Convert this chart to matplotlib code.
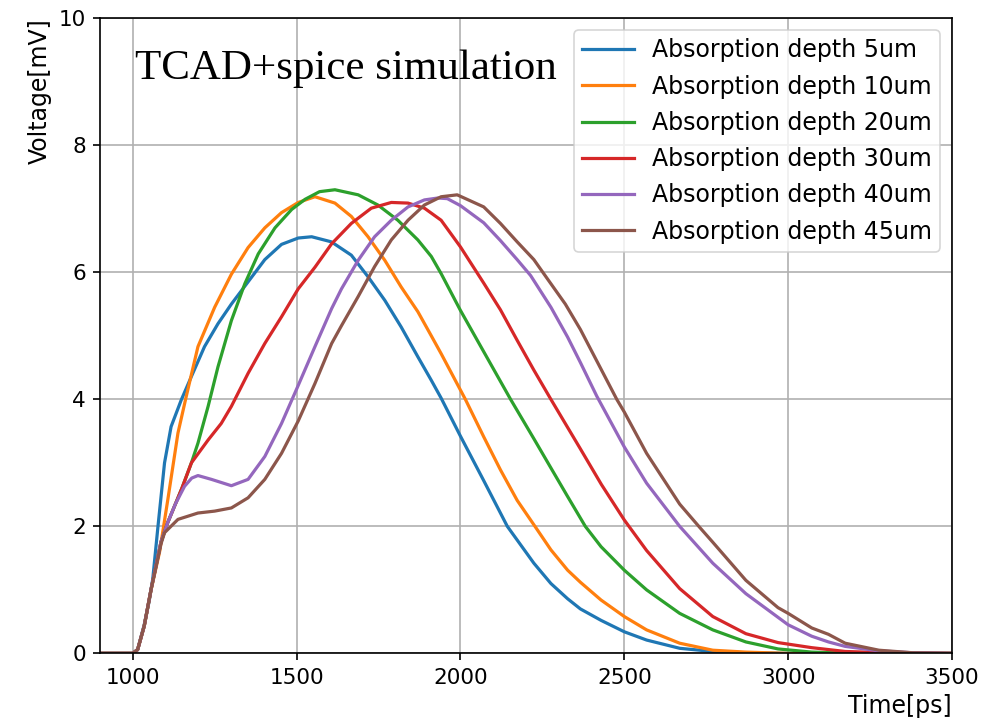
import matplotlib
matplotlib.use("Agg")
import matplotlib.pyplot as plt

# ---- data ----
t_5 = [900, 1000, 1015, 1035, 1050, 1061, 1077, 1097, 1117, 1148, 1179, 1219, 1260, 1301, 1352,
       1403, 1454, 1505, 1546, 1606, 1667, 1718, 1769, 1819, 1870, 1911, 1941, 2000, 2071, 2143,
       2224, 2276, 2327, 2366, 2429, 2500, 2568, 2669, 2770, 2870, 3000, 3200, 3500]
v_5 = [0, 0, 0.06, 0.45, 0.82, 1.17, 2.0, 3.0, 3.57, 3.99, 4.36, 4.83, 5.19, 5.5, 5.85,
       6.2, 6.44, 6.54, 6.56, 6.48, 6.27, 5.93, 5.56, 5.14, 4.67, 4.3, 4.02, 3.42, 2.72, 2.0,
       1.42, 1.1, 0.86, 0.7, 0.52, 0.34, 0.21, 0.08, 0.03, 0.01, 0, 0, 0]

t_10 = [900, 1000, 1015, 1035, 1056, 1082, 1107, 1138, 1163, 1199, 1250, 1301, 1352, 1403, 1454,
        1505, 1556, 1617, 1667, 1718, 1769, 1819, 1870, 1911, 1941, 2015, 2071, 2122, 2173,
        2230, 2276, 2327, 2366, 2429, 2500, 2568, 2669, 2770, 2871, 3000, 3200, 3500]
v_10 = [0, 0, 0.06, 0.43, 1.0, 1.6, 2.42, 3.47, 4.04, 4.83, 5.45, 5.97, 6.39, 6.7, 6.94,
        7.1, 7.19, 7.09, 6.88, 6.56, 6.19, 5.77, 5.38, 5.0, 4.72, 4.0, 3.41, 2.89, 2.41,
        1.98, 1.63, 1.31, 1.12, 0.84, 0.58, 0.37, 0.16, 0.05, 0.02, 0, 0, 0]

t_20 = [900, 1000, 1015, 1035, 1056, 1086, 1106, 1130, 1150, 1179, 1199, 1230, 1260, 1301, 1342,
        1383, 1434, 1485, 1526, 1570, 1617, 1688, 1748, 1809, 1870, 1911, 1941, 2000, 2071, 2153,
        2224, 2276, 2327, 2381, 2429, 2500, 2568, 2669, 2770, 2871, 2969, 3072, 3174, 3300, 3500]
v_20 = [0, 0, 0.06, 0.43, 1.01, 1.75, 2.05, 2.35, 2.6, 3.0, 3.31, 3.89, 4.51, 5.24, 5.82,
        6.29, 6.7, 6.99, 7.15, 7.27, 7.3, 7.22, 7.06, 6.82, 6.51, 6.25, 5.98, 5.4, 4.75, 4.0,
        3.38, 2.92, 2.47, 2.0, 1.68, 1.31, 1.0, 0.63, 0.37, 0.18, 0.07, 0.02, 0.005, 0, 0]

t_30 = [900, 1000, 1015, 1035, 1056, 1086, 1106, 1130, 1150, 1179, 1230, 1270, 1301, 1352, 1403,
        1454, 1505, 1556, 1607, 1667, 1728, 1789, 1840, 1890, 1941, 2000, 2071, 2122, 2173, 2224,
        2276, 2366, 2430, 2500, 2568, 2669, 2770, 2871, 2969, 3072, 3174, 3300, 3500]
v_30 = [0, 0, 0.06, 0.43, 1.01, 1.75, 2.05, 2.35, 2.6, 3.0, 3.36, 3.62, 3.89, 4.41, 4.88,
        5.3, 5.74, 6.08, 6.45, 6.77, 7.01, 7.1, 7.09, 7.01, 6.82, 6.4, 5.83, 5.41, 4.93, 4.46,
        4.0, 3.22, 2.66, 2.1, 1.62, 1.02, 0.58, 0.31, 0.17, 0.09, 0.03, 0.01, 0]

t_40 = [900, 1000, 1015, 1035, 1056, 1086, 1106, 1130, 1158, 1180, 1199, 1240, 1301, 1352, 1403,
        1454, 1505, 1556, 1607, 1637, 1688, 1738, 1789, 1840, 1890, 1931, 1960, 2000, 2071, 2122,
        2173, 2214, 2276, 2327, 2366, 2416, 2500, 2568, 2669, 2770, 2871, 3000, 3072, 3123, 3174,
        3277, 3380, 3500]
v_40 = [0, 0, 0.06, 0.43, 1.01, 1.75, 2.05, 2.35, 2.63, 2.76, 2.8, 2.74, 2.64, 2.74, 3.1,
        3.62, 4.22, 4.83, 5.43, 5.74, 6.19, 6.56, 6.82, 7.03, 7.14, 7.17, 7.16, 7.05, 6.78, 6.5,
        6.2, 5.95, 5.45, 4.98, 4.58, 4.05, 3.25, 2.68, 2.0, 1.42, 0.94, 0.45, 0.27, 0.18, 0.11,
        0.04, 0.01, 0]

t_45 = [900, 1000, 1015, 1035, 1056, 1086, 1097, 1138, 1199, 1250, 1301, 1352, 1403, 1454, 1505,
        1556, 1607, 1637, 1688, 1738, 1789, 1840, 1890, 1941, 1990, 2071, 2122, 2173, 2224, 2265,
        2320, 2366, 2477, 2500, 2568, 2669, 2729, 2770, 2871, 2969, 3000, 3072, 3123, 3174, 3277,
        3379, 3500]
v_45 = [0, 0, 0.06, 0.43, 1.01, 1.72, 1.9, 2.11, 2.21, 2.24, 2.29, 2.45, 2.74, 3.15, 3.66,
        4.25, 4.88, 5.16, 5.62, 6.09, 6.51, 6.82, 7.06, 7.19, 7.22, 7.03, 6.77, 6.48, 6.2, 5.9,
        5.5, 5.1, 4.0, 3.8, 3.15, 2.35, 1.99, 1.75, 1.15, 0.72, 0.63, 0.4, 0.3, 0.16, 0.05,
        0.01, 0]

labels = ["Absorption depth 5um", "Absorption depth 10um", "Absorption depth 20um",
          "Absorption depth 30um", "Absorption depth 40um", "Absorption depth 45um"]
series = [(t_5, v_5), (t_10, v_10), (t_20, v_20), (t_30, v_30), (t_40, v_40), (t_45, v_45)]
colors = ["#1f77b4", "#ff7f0e", "#2ca02c", "#d62728", "#9467bd", "#8c564b"]

x_ticks = [1000, 1500, 2000, 2500, 3000, 3500]
y_ticks = [0, 2, 4, 6, 8, 10]

# ---- style ----
plt.rcParams.update({
    "font.family": "DejaVu Sans",
    "font.size": 15.5,
    "axes.linewidth": 1.2,
    "xtick.major.size": 5.2,
    "ytick.major.size": 5.2,
    "xtick.major.width": 1.2,
    "ytick.major.width": 1.2,
    "xtick.major.pad": 5,
    "ytick.major.pad": 5,
})

fig = plt.figure(figsize=(9.84, 7.28), dpi=100)
ax = fig.add_axes([0.1016, 0.1025, 0.8659, 0.8724])

for (t, v), c, lab in zip(series, colors, labels):
    ax.plot(t, v, color=c, lw=2.3, label=lab, solid_joinstyle="round")

ax.set_xlim(900, 3500)
ax.set_ylim(0, 10)
ax.set_xticks(x_ticks)
ax.set_yticks(y_ticks)
ax.grid(True, color="#b0b0b0", lw=1.2)
ax.set_axisbelow(True)

ax.set_xlabel("Time[ps]", loc="right", fontsize=17, labelpad=5)
ax.set_ylabel("Voltage[mV]", loc="top", fontsize=17, labelpad=5)

ax.text(1008, 9.2, "TCAD+spice simulation", family="Liberation Serif",
        fontsize=31, va="center", ha="left", color="black")

leg = ax.legend(loc="upper right", fontsize=17, framealpha=0.8, borderaxespad=0.5,
                handlelength=2.2, handletextpad=0.75, labelspacing=0.52, borderpad=0.35)
leg.get_frame().set_linewidth(1.2)

fig.savefig("out.png", dpi=100)
